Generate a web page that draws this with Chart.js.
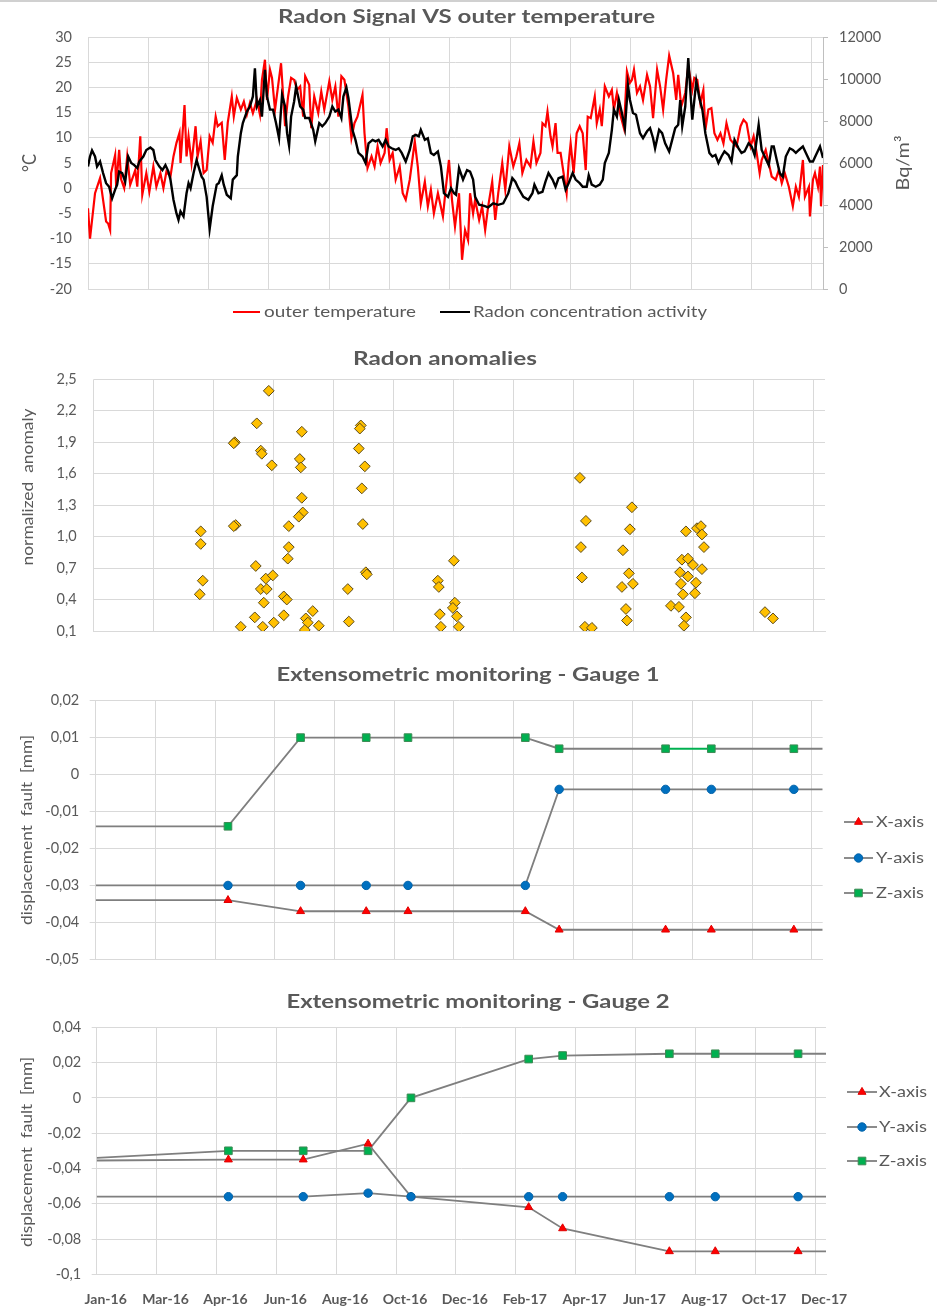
<!DOCTYPE html>
<html><head><meta charset="utf-8">
<script src="https://cdn.jsdelivr.net/npm/chart.js@4.4.1/dist/chart.umd.min.js"></script>
<style>
html,body{margin:0;padding:0;background:#fff;}
#wrap{position:relative;width:937px;height:1306px;overflow:hidden;background:#fff;}
#wrap canvas{position:absolute;left:0;}
#topline{position:absolute;left:0;top:0;width:937px;height:2px;background:#d0d0d0;}
</style></head><body>
<div id="wrap">
<div id="topline"></div>
<canvas id="c1" width="937" height="330" style="top:0px"></canvas>
<canvas id="c2" width="937" height="315" style="top:335px"></canvas>
<canvas id="c3" width="937" height="325" style="top:655px"></canvas>
<canvas id="c4" width="937" height="326" style="top:980px"></canvas>
</div>
<script>
// ---------------- DATA ----------------
// x values are days since 1 Jan 2016
const xTickLabels = ['Jan-16','Mar-16','Apr-16','Jun-16','Aug-16','Oct-16','Dec-16','Feb-17','Apr-17','Jun-17','Aug-17','Oct-17','Dec-17'];

const tempDays = [0,2,7,12,15,18,20,22,23,27,
28,31,33,36,39,42,47,49,52,54,
58,61,65,68,72,75,78,82,85,88,
91,92,96,98,100,103,107,109,112,115,
118,121,124,127,129,133,136,139,143,145,
148,152,155,158,161,164,168,171,173,176,
178,181,183,186,189,192,196,199,202,205,
208,211,214,216,220,222,225,229,232,235,
240,243,246,249,252,255,259,262,265,268,
273,275,278,282,285,288,291,295,297,300,
303,306,310,313,316,320,325,328,331,335,
338,341,344,348,353,356,359,362,365,369,
372,375,378,380,383,385,389,392,395,398,
402,405,408,412,415,419,423,426,429,432,
436,440,443,446,450,452,455,457,460,462,
465,467,470,473,476,478,480,483,486,489,
492,495,497,500,504,506,509,511,514,518,
521,523,526,529,533,536,539,541,543,546,
549,552,556,559,562,566,569,572,575,578,
582,585,587,590,594,597,601,603,606,609,
612,614,617,620,623,626,629,632,635,639,
642,645,649,652,655,659,662,665,668,670,
674,677,680,684,687,690,693,697,701,704,
707,711,713,717,718,721,723,726,728,729,
731];
const tempValues = [-4,-10,-1,2,-2.3,-6.6,-7,-8.3,3,6.6,
0.3,7.6,1.7,0,6.3,0.7,3.6,0.3,10.3,-1.3,
3,-0.7,4.3,0.3,3,0,3.3,2.3,6.3,9,
11,5,16.5,6.3,10.3,5,12.3,6.3,9.3,3,
3.6,10.3,9,14.2,12.3,13,5.6,13,18.2,14.2,
17.9,15.6,17.2,14.6,16.9,14.9,17.5,14.6,21.5,25.5,
17.5,23.5,21.9,15.6,20.2,24.8,12.3,18.2,21.9,21.5,
19.5,20.2,14.2,22.2,20.5,11.9,18.2,14.9,19.2,15.6,
21.2,17.5,20.2,14.2,22.2,21.5,16.2,9.9,12.9,14.2,
18.5,10.9,4,6.3,4.3,8.3,5,7,11.9,5.6,
7,1.7,4.3,-1,-2.3,1.7,9.3,4.3,-3,1.3,
-3.6,-0.3,-5,-1,-5.6,0.3,5.6,-2.3,-7.6,-1,
-14.2,-8.3,-10.3,-1,-5,-2.3,-6.3,-3.6,-8.3,-3.6,
1.3,-6.3,-1,5,-0.3,8.3,4.3,6.3,8.9,3,
5.6,4.3,9.3,5,7,12.9,12.3,15.2,10.3,8.3,
12.9,7,7,3,-1,5,8.9,3,10.9,12.3,
10.9,3.6,14.2,13.9,18.2,12.9,15.6,12.3,20.2,18.2,
19.5,15.6,18.9,14.9,11.9,23.2,20.9,21.5,23.5,18.9,
20.2,17.5,22.5,20.2,13.9,23.5,20.2,15.6,21.5,26.3,
22.8,17.5,22.5,16.2,18.9,24.2,19.5,21.9,21.5,16.9,
19.5,11.6,15.6,15.9,10.9,9.6,10.9,8.9,12.9,9.6,
8.9,8.3,12.3,13.6,12.9,8.3,10.3,7,3,5.6,
7.6,5,2.3,1.7,3.6,1,3,0.3,-3.6,0.3,
-1.7,5.6,-1.7,0.3,-5.6,1.7,3,0.3,4.3,-3.6,
4.6];

const radonDays = [0,2,4,7,9,12,15,18,21,24,
27,29,31,34,37,40,43,46,49,51,
55,58,62,65,67,71,74,77,80,82,
85,88,90,92,95,98,100,102,105,108,
111,113,115,118,121,124,128,130,133,135,
138,142,144,148,149,152,154,158,161,164,
166,168,171,173,176,178,181,184,187,190,
193,196,198,200,202,205,207,211,214,216,
220,224,226,230,233,236,240,243,246,249,
252,254,257,259,263,266,269,273,276,279,
283,286,289,293,296,299,302,306,309,312,
316,320,323,326,329,331,335,338,341,344,
348,351,354,358,361,364,366,369,373,377,
380,383,385,389,394,398,403,408,413,418,
422,425,428,433,438,442,444,448,452,455,
458,462,465,468,472,475,478,482,485,489,
492,496,498,501,505,509,512,514,518,521,
523,526,528,531,534,537,539,542,545,549,
552,556,559,562,564,568,571,574,578,581,
584,587,589,591,594,597,599,601,605,608,
611,614,618,621,624,627,630,633,637,640,
643,647,650,653,657,660,663,667,670,673,
677,680,682,685,688,691,694,698,701,704,
707,711,714,718,721,724,728,731];
const radonValues = [5830,6310,6600,6310,5830,6070,5520,5040,4870,4320,
4730,4970,5590,5520,5110,6310,6000,5900,5760,6070,
6310,6620,6740,6620,6140,5830,5660,5900,5590,5210,
4250,3600,3290,3700,3460,4560,5040,4800,5520,6140,
5660,5350,5210,4390,2860,3940,4970,5040,5420,4970,
4490,4320,5210,5420,6310,7420,7900,8450,8690,9170,
10510,8690,9000,8210,10440,9170,8540,8540,7900,7180,
9240,8690,7420,6820,8210,8930,9650,8690,8540,8140,
8140,7580,7030,7900,7750,7900,8210,8690,8450,8540,
8140,9170,9600,9100,7580,7100,6480,6310,6000,6940,
7100,7030,7100,6790,7100,6790,6700,6620,6700,6480,
6070,6620,7270,7340,7270,7580,7100,7180,6480,6380,
6550,5830,4560,4390,4800,4560,4490,5760,5210,5660,
5590,5210,4390,4010,3960,3890,4080,4010,4080,4560,
5280,5110,4800,4390,4250,4560,4970,4560,4630,5110,
5520,5210,4870,5280,5350,4730,5040,5520,5210,5040,
4870,4870,5420,4970,4870,4970,5210,6000,6480,7580,
8540,8210,9000,8380,7660,9720,9000,8380,8300,7420,
7180,7510,7660,7180,6700,7580,7420,6940,6550,7100,
7660,7820,9000,7750,8690,11000,9480,8060,9890,9100,
8540,7420,6480,6310,6380,6000,6310,6550,6380,6070,
7100,6700,6480,6550,6940,6790,6380,7820,6620,6310,
5900,6790,6790,6140,5520,5350,6310,6700,6620,6480,
6620,6790,6480,6070,6070,6380,6790,6240];

const anomalyDays = [107,107,109,106,141,140,142,140,163,167,
168,175,178,162,172,179,167,173,170,161,
147,169,180,208,206,207,208,209,205,195,
195,194,190,193,190,219,212,214,225,211,
267,266,265,271,268,269,272,273,254,255,
344,345,360,361,359,363,346,347,365,486,
492,487,488,491,498,538,536,529,535,539,
528,532,533,592,603,607,608,610,588,594,
599,608,586,594,602,587,589,601,577,585,
592,590,671,679];
const anomalyValues = [1.05,0.93,0.58,0.45,1.9,1.89,1.11,1.1,2.08,1.82,
1.79,2.39,1.68,0.72,0.6,0.63,0.5,0.5,0.37,0.23,
0.14,0.14,0.18,2.0,1.74,1.66,1.37,1.23,1.19,1.1,
0.9,0.79,0.43,0.4,0.25,0.29,0.22,0.18,0.15,0.11,
2.06,2.03,1.84,1.67,1.46,1.12,0.66,0.64,0.5,0.19,
0.58,0.52,0.77,0.37,0.32,0.24,0.26,0.14,0.14,1.56,
1.15,0.9,0.61,0.14,0.13,1.28,1.07,0.87,0.65,0.55,
0.52,0.31,0.2,1.05,1.08,1.1,1.02,0.9,0.78,0.79,
0.73,0.69,0.66,0.62,0.56,0.55,0.45,0.46,0.34,0.33,
0.23,0.15,0.28,0.22];

const gauge1Days = [0,133,206,272,314,432,466,573,619,702,731];
const gauge1X = [-0.034,-0.034,-0.037,-0.037,-0.037,-0.037,-0.042,-0.042,-0.042,-0.042,-0.042];
const gauge1Y = [-0.03,-0.03,-0.03,-0.03,-0.03,-0.03,-0.004,-0.004,-0.004,-0.004,-0.004];
const gauge1Z = [-0.014,-0.014,0.01,0.01,0.01,0.01,0.007,0.007,0.007,0.007,0.007];

const gauge2Days = [0,132,207,272,315,433,467,574,620,703,731];
const gauge2X = [-0.0355,-0.035,-0.035,-0.026,-0.056,-0.062,-0.074,-0.087,-0.087,-0.087,-0.087];
const gauge2Y = [-0.056,-0.056,-0.056,-0.054,-0.056,-0.056,-0.056,-0.056,-0.056,-0.056,-0.056];
const gauge2Z = [-0.034,-0.03,-0.03,-0.03,0,0.022,0.024,0.025,0.025,0.025,0.025];

// ---------------- STYLE ----------------
const F = 'Lato, "Open Sans", sans-serif';
const TXT = '#595959';
const GRID = '#d9d9d9';
const tickFont = {family: F, size: 14.5};
const pts = (xs, ys) => xs.map((x, i) => ({x: x, y: ys[i]}));
const comma = (v, d) => (d === undefined ? String(Math.round(v * 1000) / 1000) : v.toFixed(d)).replace('.', ',');

const MK = {
  X: {style: 'triangle', r: 4.6, fill: '#ff0000', stroke: '#e00000'},
  Y: {style: 'circle', r: 4.2, fill: '#0070c0', stroke: '#0062a8'},
  Z: {style: 'rect', r: 5.4, fill: '#00b050', stroke: '#3d8b55'}
};

function drawMarker(ctx, m, x, y) {
  ctx.save();
  ctx.fillStyle = m.fill; ctx.strokeStyle = m.stroke; ctx.lineWidth = 1;
  ctx.beginPath();
  if (m.style === 'triangle') {
    ctx.moveTo(x, y - m.r); ctx.lineTo(x + m.r * 0.866, y + m.r / 2); ctx.lineTo(x - m.r * 0.866, y + m.r / 2); ctx.closePath();
  } else if (m.style === 'circle') {
    ctx.arc(x, y, m.r, 0, Math.PI * 2);
  } else {
    const s = m.r * Math.SQRT1_2; ctx.rect(x - s, y - s, 2 * s, 2 * s);
  }
  ctx.fill(); ctx.stroke();
  ctx.restore();
}

const deco = {
  id: 'deco',
  afterDraw(chart, args, o) {
    const ctx = chart.ctx;
    (o.lines || []).forEach(l => {
      ctx.save();
      ctx.strokeStyle = l.color; ctx.lineWidth = l.width;
      ctx.beginPath(); ctx.moveTo(l.x1, l.y); ctx.lineTo(l.x2, l.y); ctx.stroke();
      ctx.restore();
      if (l.marker) drawMarker(ctx, l.marker, (l.x1 + l.x2) / 2, l.y);
    });
    (o.texts || []).forEach(t => {
      ctx.save();
      ctx.font = t.font; ctx.fillStyle = t.color || TXT; ctx.textBaseline = 'middle';
      ctx.textAlign = t.align || 'center';
      const m = ctx.measureText(t.text).width;
      const sx = t.w ? t.w / m : 1;
      ctx.translate(t.x, t.y);
      if (t.rot) ctx.rotate(t.rot);
      ctx.scale(sx, 1);
      ctx.fillText(t.text, 0, 0);
      ctx.restore();
    });
  }
};

// fixed axis box sizes so the plot areas sit where the reference has them
const fixW = w => (s => { s.width = w; s.paddingTop = 6; s.paddingBottom = 6; });

function hiddenX(extra) {
  return Object.assign({
    type: 'linear', min: 0, max: 731,
    ticks: {display: false, stepSize: 60, includeBounds: false},
    grid: {color: GRID, drawTicks: false},
    border: {color: GRID},
    afterFit: s => { s.height = 0; }
  }, extra || {});
}

function gaugeDatasets(days, xs, ys, zs, greenSeg) {
  const endR = r => (c => (c.dataIndex === 0 || c.dataIndex === days.length - 1) ? 0 : r);
  const base = (label, data, m, order) => ({
    label: label, data: pts(days, data), borderColor: '#7f7f7f', borderWidth: 1.8,
    pointStyle: m.style, pointRadius: endR(m.r), pointHoverRadius: endR(m.r),
    pointBackgroundColor: m.fill, pointBorderColor: m.stroke, pointBorderWidth: 1,
    tension: 0, order: order
  });
  const z = base('Z-axis', zs, MK.Z, 3);
  if (greenSeg !== undefined) {
    z.segment = {borderColor: c => c.p0DataIndex === greenSeg ? '#00b050' : undefined};
  }
  return [base('X-axis', xs, MK.X, 2), base('Y-axis', ys, MK.Y, 1), z];
}

const common = {
  responsive: false, animation: false, devicePixelRatio: 1,
  events: []
};
const noPlug = {legend: {display: false}, tooltip: {enabled: false}, title: {display: false}};

// ---------------- CHART 1 ----------------
new Chart(document.getElementById('c1'), {
  type: 'line',
  data: {datasets: [
    {label: 'outer temperature', data: pts(tempDays, tempValues), borderColor: '#ff0000', borderWidth: 2.2,
     pointRadius: 0, tension: 0, yAxisID: 'y', order: 2},
    {label: 'Radon concentration activity', data: pts(radonDays, radonValues), borderColor: '#000000', borderWidth: 2.4,
     pointRadius: 0, tension: 0, yAxisID: 'y2', order: 1}
  ]},
  options: Object.assign({}, common, {
    layout: {padding: {top: 37, bottom: 41, left: 0, right: 0}},
    scales: {
      x: hiddenX(),
      y: {position: 'left', min: -20, max: 30,
          ticks: {stepSize: 5, color: TXT, font: tickFont, padding: 16, callback: v => String(v)},
          grid: {color: GRID, drawTicks: false}, border: {display: false},
          afterFit: fixW(88)},
      y2: {position: 'right', min: 0, max: 12000,
          ticks: {stepSize: 2000, color: TXT, font: tickFont, padding: 11, callback: v => String(v)},
          grid: {drawOnChartArea: false, color: '#bfbfbf', tickLength: 5}, border: {color: '#bfbfbf'},
          afterFit: fixW(114)}
    },
    plugins: Object.assign({}, noPlug, {deco: {
      texts: [
        {text: 'Radon Signal VS outer temperature', x: 466.5, y: 17, font: 'bold 19px ' + F, w: 377},
        {text: '°C', x: 30, y: 163, font: '20px ' + F, rot: -Math.PI / 2, w: 18},
        {text: 'Bq/m³', x: 903, y: 163, font: '18px ' + F, rot: -Math.PI / 2, w: 55},
        {text: 'outer temperature', x: 264, y: 312, font: '16px ' + F, align: 'left', w: 152},
        {text: 'Radon concentration activity', x: 473, y: 312, font: '16px ' + F, align: 'left', w: 234}
      ],
      lines: [
        {x1: 233, x2: 260, y: 312, color: '#ff0000', width: 2},
        {x1: 440, x2: 470, y: 312, color: '#000000', width: 2}
      ]
    }})
  }),
  plugins: [deco]
});

// ---------------- CHART 2 ----------------
new Chart(document.getElementById('c2'), {
  type: 'scatter',
  data: {datasets: [{
    label: 'Radon anomalies', data: pts(anomalyDays, anomalyValues),
    pointStyle: 'rectRot', pointRadius: 5.4, pointBackgroundColor: '#ffc000',
    pointBorderColor: '#5b4a1c', pointBorderWidth: 1
  }]},
  options: Object.assign({}, common, {
    layout: {padding: {top: 44.3, bottom: 19, left: 0, right: 112}},
    scales: {
      x: hiddenX(),
      y: {min: 0.1, max: 2.5,
          ticks: {stepSize: 0.3, color: TXT, font: tickFont, padding: 17, callback: v => comma(v, 1)},
          grid: {color: GRID, drawTicks: false}, border: {display: false},
          afterFit: fixW(93.7)}
    },
    plugins: Object.assign({}, noPlug, {deco: {
      texts: [
        {text: 'Radon anomalies', x: 445, y: 24, font: 'bold 19px ' + F, w: 184},
        {text: 'normalized  anomaly', x: 28, y: 152, font: '16px ' + F, rot: -Math.PI / 2, w: 157}
      ]
    }})
  }),
  plugins: [deco]
});

// ---------------- CHART 3 ----------------
function legendSpec(x1, x2, tx, ys) {
  const names = ['X-axis', 'Y-axis', 'Z-axis'];
  const keys = ['X', 'Y', 'Z'];
  return {
    lines: ys.map((y, i) => ({x1: x1, x2: x2, y: y, color: '#7f7f7f', width: 1.8, marker: MK[keys[i]]})),
    texts: ys.map((y, i) => ({text: names[i], x: tx, y: y, font: '16px ' + F, align: 'left', w: 48}))
  };
}
const leg3 = legendSpec(844, 873, 876, [167, 203, 238]);
new Chart(document.getElementById('c3'), {
  type: 'line',
  data: {datasets: gaugeDatasets(gauge1Days, gauge1X, gauge1Y, gauge1Z, 7)},
  options: Object.assign({}, common, {
    layout: {padding: {top: 45.7, bottom: 20.7, left: 0, right: 114.3}},
    scales: {
      x: hiddenX(),
      y: {min: -0.05, max: 0.02,
          ticks: {stepSize: 0.01, color: TXT, font: tickFont, padding: 10.5, callback: v => comma(v)},
          grid: {color: GRID, drawTicks: true, tickLength: 6}, border: {display: false},
          afterFit: fixW(95.7)}
    },
    plugins: Object.assign({}, noPlug, {deco: {
      texts: [
        {text: 'Extensometric monitoring - Gauge 1', x: 468, y: 20, font: 'bold 19px ' + F, w: 383},
        {text: 'displacement  fault  [mm]', x: 27, y: 175, font: '16px ' + F, rot: -Math.PI / 2, w: 190}
      ].concat(leg3.texts),
      lines: leg3.lines
    }})
  }),
  plugins: [deco]
});

// ---------------- CHART 4 ----------------
const leg4 = legendSpec(847, 877, 879, [112, 147, 181]);
new Chart(document.getElementById('c4'), {
  type: 'line',
  data: {datasets: gaugeDatasets(gauge2Days, gauge2X, gauge2Y, gauge2Z)},
  options: Object.assign({}, common, {
    layout: {padding: {top: 47.3, bottom: 0, left: 0, right: 111}},
    scales: {
      x: {type: 'linear', min: 0, max: 731,
          ticks: {stepSize: 60, includeBounds: false, autoSkip: false, maxRotation: 0, minRotation: 0,
                  color: TXT, font: {family: F, size: 14, weight: 'bold'}, padding: 17, labelOffset: 9,
                  callback: (v, i) => xTickLabels[i]},
          grid: {color: GRID, drawTicks: false}, border: {color: GRID},
          afterFit: s => { s.height = 31.7; }},
      y: {min: -0.1, max: 0.04,
          ticks: {stepSize: 0.02, color: TXT, font: tickFont, padding: 10.5, callback: v => comma(v)},
          grid: {color: GRID, drawTicks: true, tickLength: 5}, border: {display: false},
          afterFit: fixW(96.7)}
    },
    plugins: Object.assign({}, noPlug, {deco: {
      texts: [
        {text: 'Extensometric monitoring - Gauge 2', x: 478, y: 22, font: 'bold 19px ' + F, w: 383},
        {text: 'displacement  fault  [mm]', x: 27, y: 172, font: '16px ' + F, rot: -Math.PI / 2, w: 190}
      ].concat(leg4.texts),
      lines: leg4.lines
    }})
  }),
  plugins: [deco]
});
</script>
</body></html>
